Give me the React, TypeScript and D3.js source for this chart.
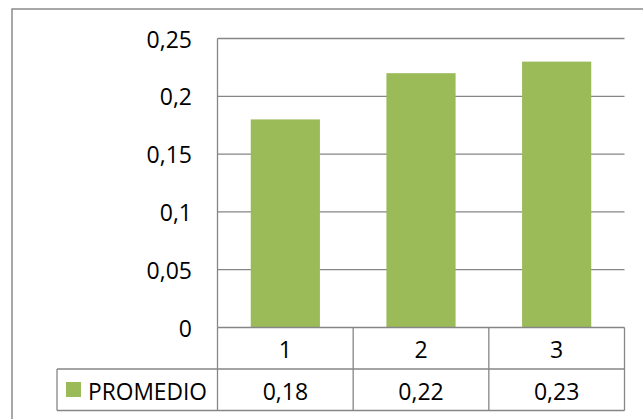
import React from "react";
import * as d3 from "d3";

// Chart data
const categories = ["1", "2", "3"];
const promedio = [0.18, 0.22, 0.23];
const seriesName = "PROMEDIO";
const yTicks = [0, 0.05, 0.1, 0.15, 0.2, 0.25];

const W = 643;
const H = 419;
const FONT = "'Open Sans', 'Liberation Sans', sans-serif";
const GREEN = "#9BBB59";
const GRID = "#868686";

const fmt = (v: number) => String(v).replace(".", ",");

export default function App() {
  const left = 217.5;
  const right = 624.5;
  const top = 38.5;
  const base = 327.5;
  const row1 = 369;
  const row2 = 410.5;
  const legendLeft = 57;

  const x = d3.scaleBand<string>().domain(categories).range([left, right]).padding(0);
  const y = d3.scaleLinear().domain([0, 0.25]).range([base, top]);
  const barW = x.bandwidth() * 0.51;

  return (
    <svg
      width={W}
      height={H}
      style={{ position: "absolute", left: 0, top: 0, display: "block" }}
      fontFamily={FONT}
    >
      <rect width={W} height={H} fill="#fff" />
      {/* chart area border */}
      <rect x={12} y={9} width={W + 10} height={H + 10} fill="none" stroke="#8c8c8c" strokeWidth={1.5} />

      {/* horizontal gridlines */}
      {yTicks.slice(1).map((t) => (
        <line key={t} x1={left} x2={right} y1={y(t)} y2={y(t)} stroke={GRID} strokeWidth={1.3} />
      ))}

      {/* bars */}
      {promedio.map((v, i) => {
        const cx = (x(categories[i]) ?? 0) + x.bandwidth() / 2;
        return (
          <rect key={i} x={cx - barW / 2} y={y(v)} width={barW} height={y(0) - y(v)} fill={GREEN} />
        );
      })}

      {/* value axis line */}
      <line x1={left} x2={left} y1={top} y2={base} stroke={GRID} strokeWidth={1.3} />

      {/* value axis labels */}
      {yTicks.map((t) => (
        <text
          key={t}
          x={192}
          y={y(t)}
          textAnchor="end"
          dominantBaseline="central"
          fontSize={23}
          fill="#000"
        >
          {fmt(t)}
        </text>
      ))}

      {/* data table */}
      <g stroke={GRID} strokeWidth={1.3} fill="none">
        <line x1={left} x2={right} y1={base} y2={base} />
        <line x1={legendLeft} x2={right} y1={row1} y2={row1} />
        <line x1={legendLeft} x2={right} y1={row2} y2={row2} />
        <line x1={legendLeft} x2={legendLeft} y1={row1} y2={row2} />
        {categories.map((c) => (
          <line key={c} x1={x(c)} x2={x(c)} y1={base} y2={row2} />
        ))}
        <line x1={right} x2={right} y1={base} y2={row2} />
      </g>

      {categories.map((c, i) => {
        const cx = (x(c) ?? 0) + x.bandwidth() / 2;
        return (
          <g key={c}>
            <text x={cx} y={(base + row1) / 2 + 1} textAnchor="middle" dominantBaseline="central" fontSize={23}>
              {c}
            </text>
            <text x={cx} y={(row1 + row2) / 2 + 1} textAnchor="middle" dominantBaseline="central" fontSize={23}>
              {fmt(promedio[i])}
            </text>
          </g>
        );
      })}

      {/* legend key */}
      <rect x={66} y={382} width={15} height={15} fill={GREEN} />
      <text x={88} y={(row1 + row2) / 2 + 1} dominantBaseline="central" fontSize={23} textLength={119} lengthAdjust="spacingAndGlyphs">
        {seriesName}
      </text>
    </svg>
  );
}
